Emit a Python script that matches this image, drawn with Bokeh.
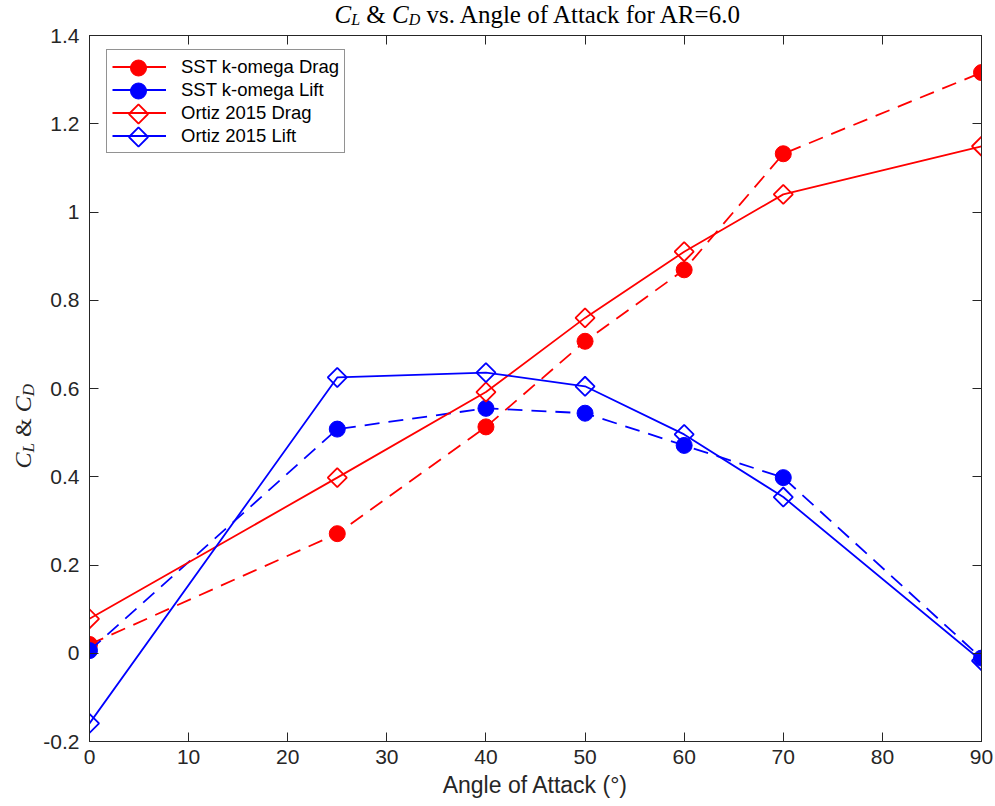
import math
from bokeh.plotting import figure
from bokeh.layouts import column, row
from bokeh.models import (Range1d, LinearAxis, FixedTicker, CustomJSTickFormatter,
                          Legend, LegendItem, ColumnDataSource)
from bokeh.core.properties import value
from bokeh.embed import file_html
from bokeh.resources import INLINE

# ---- data ----
angles = [0, 25, 40, 50, 60, 70, 90]
sst_drag = [0.02, 0.271, 0.513, 0.707, 0.869, 1.132, 1.316]
sst_lift = [0.006, 0.508, 0.555, 0.544, 0.471, 0.398, -0.011]
ortiz_drag = [0.078, 0.398, 0.592, 0.760, 0.910, 1.040, 1.149]
ortiz_lift = [-0.159, 0.625, 0.636, 0.605, 0.496, 0.354, -0.017]
x_ticks = [0, 10, 20, 30, 40, 50, 60, 70, 80, 90]
y_ticks = [-0.2, 0, 0.2, 0.4, 0.6, 0.8, 1.0, 1.2, 1.4]
series_names = ["SST k-omega Drag", "SST k-omega Lift", "Ortiz 2015 Drag", "Ortiz 2015 Lift"]
title_rest = "vs. Angle of Attack for AR=6.0"

AX = "#262626"
W, H = 995, 806
FL, FT = 88, 35   # frame left / top on the page
TOP = 28          # height of the title strip (over the plot column)
BT = FT - TOP     # main figure top border
YLW = 40          # width of the y-label strip
YAW = 40          # width of the y tick-label strip
PBL = FL - YLW - YAW   # main figure left border (room for the "0" x tick label)
FW, FH = 892, 706
BB = H - FT - FH  # bottom border
X0, X1, Y0, Y1 = 0, 90, -0.2, 1.4
MID = 0.3375      # box centre above baseline (em) for Liberation fonts

def blank_fig(w, h):
    f = figure(frame_width=w, frame_height=h, x_range=Range1d(0, w), y_range=Range1d(0, h),
               output_backend="svg", toolbar_location=None,
               x_axis_location=None, y_axis_location=None,
               min_border=0, min_border_left=0, min_border_right=0,
               min_border_top=0, min_border_bottom=0)
    f.title.visible = False
    f.grid.visible = False
    f.outline_line_color = None
    f.background_fill_color = "white"
    f.border_fill_color = "white"
    return f

yr = Range1d(Y0, Y1)
fmt_y = CustomJSTickFormatter(code="return String(Number(tick.toFixed(1)));")
blank = CustomJSTickFormatter(code="return '';")

def style_axis(ax, ticks, labels=True):
    ax.ticker = FixedTicker(ticks=ticks)
    ax.major_tick_in = 9
    ax.major_tick_out = 0
    ax.minor_tick_line_color = None
    ax.axis_line_color = AX
    ax.major_tick_line_color = AX
    ax.major_label_text_color = AX
    ax.major_label_text_font = "Liberation Sans"
    ax.major_label_text_font_size = "21px"
    if not labels:
        ax.formatter = blank
        ax.major_label_text_font_size = "0px"
        ax.major_label_standoff = 0

# ---- main plot ----
p = figure(frame_width=FW, frame_height=FH, x_range=Range1d(X0, X1), y_range=yr,
           output_backend="svg", toolbar_location=None,
           min_border_left=PBL, min_border_right=15, min_border_top=BT, min_border_bottom=BB)
p.title.visible = False
p.background_fill_color = "white"
p.border_fill_color = "white"
p.outline_line_color = AX
p.xgrid.visible = False
p.ygrid.visible = False

xa = p.xaxis[0]
style_axis(xa, x_ticks)
xa.major_label_standoff = 8
xa.axis_label = "Angle of Attack (°)"
xa.axis_label_text_font = "Liberation Sans"
xa.axis_label_text_font_size = "23px"
xa.axis_label_text_font_style = "normal"
xa.axis_label_text_color = AX
xa.axis_label_standoff = 5

style_axis(p.yaxis[0], y_ticks, labels=False)   # left edge: line + inward ticks

top_ax = LinearAxis()
style_axis(top_ax, x_ticks, labels=False)
p.add_layout(top_ax, "above")
right_ax = LinearAxis()
style_axis(right_ax, y_ticks, labels=False)
p.add_layout(right_ax, "right")

# ---- y tick-label strip sharing the y range ----
yaxf = figure(frame_width=1, frame_height=FH, x_range=Range1d(0, 1), y_range=yr,
              output_backend="svg", toolbar_location=None,
              x_axis_location=None, y_axis_location="left",
              min_border_left=YAW - 1, min_border_right=0, min_border_top=FT, min_border_bottom=BB)
yaxf.title.visible = False
yaxf.grid.visible = False
yaxf.outline_line_color = None
yaxf.background_fill_color = "white"
yaxf.border_fill_color = "white"
yl = yaxf.yaxis[0]
style_axis(yl, y_ticks)
yl.formatter = fmt_y
yl.major_tick_in = 0
yl.major_tick_line_color = None
yl.axis_line_color = None
yl.major_label_standoff = 1

RED, BLUE = "#ff0000", "#0000ff"
specs = [
    (sst_drag, RED, "15 9", "circle"),
    (sst_lift, BLUE, "15 9", "circle"),
    (ortiz_drag, RED, "solid", "diamond"),
    (ortiz_lift, BLUE, "solid", "diamond"),
]

def add_markers(src, col, mk):
    if mk == "circle":
        return p.scatter("x", "y", source=src, marker="circle", size=16,
                         fill_color=col, line_color=col, line_width=1)
    return p.scatter("x", "y", source=src, marker="square", size=13.5, angle=math.pi / 4,
                     fill_alpha=0, line_color=col, line_width=1.8)

# legend geometry (screen px inside the frame)
L_LEFT, L_BOTTOM, L_PAD, ROW, GAP, GW = 17, 588, 5, 23, 0, 54
n = len(series_names)
leg_h = 2 * L_PAD + n * ROW + (n - 1) * GAP
leg_top = FH - L_BOTTOM - leg_h

items = []
nan = float("nan")
for i, (name, (vals, col, dash, mk)) in enumerate(zip(series_names, specs)):
    src = ColumnDataSource(dict(x=angles, y=vals))
    p.line("x", "y", source=src, line_color=col, line_width=1.8, line_dash=dash)
    add_markers(src, col, mk)
    # legend sample line (no visible data) and its marker at the legend row
    sample = p.line(x=[nan, nan], y=[nan, nan], line_color=col, line_width=1.8)
    items.append(LegendItem(label=name, renderers=[sample]))
    cx_px = L_LEFT + L_PAD + GW / 2
    cy_px = leg_top + L_PAD + ROW / 2 + i * (ROW + GAP)
    lx = X0 + cx_px / FW * (X1 - X0)
    ly = Y1 - cy_px / FH * (Y1 - Y0)
    add_markers(ColumnDataSource(dict(x=[lx], y=[ly])), col, mk)

legend = Legend(items=items, location=(L_LEFT, L_BOTTOM), orientation="vertical",
                glyph_width=GW, glyph_height=ROW, spacing=GAP, padding=L_PAD,
                label_standoff=15, label_height=ROW,
                label_text_font="Liberation Sans", label_text_font_size="18.5px",
                label_text_color="black", border_line_color=AX, border_line_width=1,
                background_fill_alpha=0)
p.add_layout(legend)

def put(f, hgt, xc, yc, s, size, italic=False, angle=0.0, color="black"):
    f.text(x=[xc], y=[hgt - yc], text=[s], text_font=value("Liberation Serif"),
           text_font_size=value(f"{size}px"),
           text_font_style=value("italic" if italic else "normal"),
           text_color=color, text_align="left", text_baseline="middle", angle=angle)

# ---- title strip over the plot column (page x minus its left edge) ----
TX = YLW + YAW
TW = W - TX
tf = blank_fig(TW, TOP)
T, S = 25, 16
x0, base = 325 - TX, 22.5
cm = base - MID * T
cs = base + 2 - MID * S
sp = 0.25 * T
xL = x0 + 0.667 * T
xAmp = xL + 0.556 * S + sp
xC2 = xAmp + 0.778 * T + sp
xD = xC2 + 0.667 * T
xRest = xD + 0.722 * S + sp
put(tf, TOP, x0, cm, "C", T, True)
put(tf, TOP, xL, cs, "L", S, True)
put(tf, TOP, xAmp, cm, "&", T)
put(tf, TOP, xC2, cm, "C", T, True)
put(tf, TOP, xD, cs, "D", S, True)
put(tf, TOP, xRest, cm, title_rest, T)

# ---- y-label strip (full page height, rotated composed text) ----
yf = blank_fig(YLW, H)
Y, YS = 24, 17
ysp = 0.25 * Y
xc_main = 22
xc_sub = xc_main + 4 + MID * (Y - YS)
y0 = 433
rot = math.pi / 2
yL = y0 - 0.667 * Y
yAmp = yL - 0.556 * YS - ysp
yC2 = yAmp - 0.778 * Y - ysp
yD = yC2 - 0.667 * Y
put(yf, H, xc_main, y0, "C", Y, True, rot, AX)
put(yf, H, xc_sub, yL, "L", YS, True, rot, AX)
put(yf, H, xc_main, yAmp, "&", Y, False, rot, AX)
put(yf, H, xc_main, yC2, "C", Y, True, rot, AX)
put(yf, H, xc_sub, yD, "D", YS, True, rot, AX)

layout = row(yf, yaxf, column(tf, p, spacing=0), spacing=0)
open("out.html", "w").write(file_html(layout, INLINE))
